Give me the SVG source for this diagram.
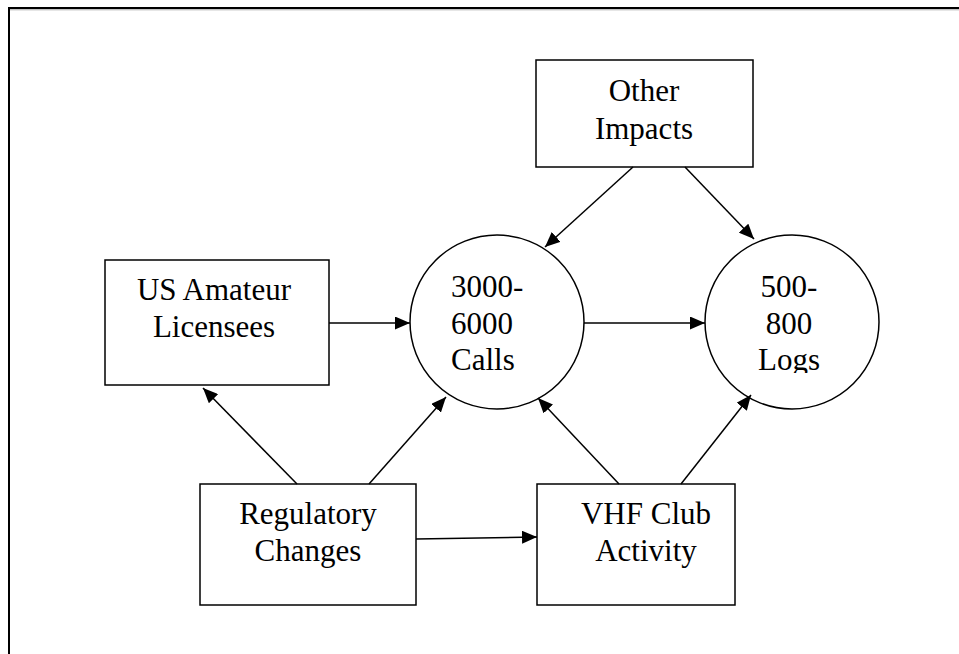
<svg xmlns="http://www.w3.org/2000/svg" width="959" height="654" viewBox="0 0 959 654">
<style>
.box{fill:#fff;stroke:#000;stroke-width:1.5}
.lbl{font-family:"Liberation Serif","Times New Roman",serif;font-size:31px;fill:#000}
.c{text-anchor:middle}
.conn line{stroke:#000;stroke-width:1.5;marker-end:url(#ah)}
</style>
<defs>
<marker id="ah" markerUnits="userSpaceOnUse" markerWidth="16" markerHeight="13" refX="15" refY="6.5" orient="auto">
<path d="M0,0 L15,6.5 L0,13 z" fill="#000"/>
</marker>
<clipPath id="clipLogs"><rect x="700" y="230" width="190" height="143"/></clipPath>
</defs>
<rect width="959" height="654" fill="#fff"/>
<rect x="9" y="8" width="980" height="700" fill="none" stroke="#000" stroke-width="2"/>
<line x1="10" y1="9.8" x2="959" y2="9.8" stroke="#aaa" stroke-width="1"/>

<g id="other-impacts">
<rect class="box" x="536" y="60" width="217" height="107"/>
<text class="lbl c" x="644" y="101">Other</text>
<text class="lbl c" x="644" y="139">Impacts</text>
</g>

<g id="us-amateur">
<rect class="box" x="105" y="260" width="224" height="125"/>
<text class="lbl c" x="214" y="300">US Amateur</text>
<text class="lbl c" x="214" y="337">Licensees</text>
</g>

<g id="calls">
<circle class="box" cx="497" cy="322" r="87"/>
<text class="lbl" x="451" y="297">3000-</text>
<text class="lbl" x="451" y="334">6000</text>
<text class="lbl" x="451" y="370">Calls</text>
</g>

<g id="logs">
<circle class="box" cx="792" cy="322" r="87"/>
<g clip-path="url(#clipLogs)">
<text class="lbl c" x="789" y="297">500-</text>
<text class="lbl c" x="789" y="334">800</text>
<text class="lbl c" x="789" y="370">Logs</text>
</g>
</g>

<g id="regulatory">
<rect class="box" x="200" y="484" width="216" height="121"/>
<text class="lbl c" x="308" y="524">Regulatory</text>
<text class="lbl c" x="308" y="561">Changes</text>
</g>

<g id="vhf-club">
<rect class="box" x="537" y="484" width="198" height="121"/>
<text class="lbl c" x="646" y="524">VHF Club</text>
<text class="lbl c" x="646" y="561">Activity</text>
</g>

<g id="connectors" class="conn">
<line x1="329" y1="323" x2="410" y2="323"/>
<line x1="584" y1="323" x2="705" y2="323"/>
<line x1="633" y1="167" x2="545" y2="247"/>
<line x1="685" y1="167" x2="754" y2="239"/>
<line x1="297" y1="484" x2="203" y2="388"/>
<line x1="369" y1="484" x2="446" y2="397"/>
<line x1="416" y1="539" x2="537" y2="537"/>
<line x1="619" y1="484" x2="538" y2="398"/>
<line x1="681" y1="484" x2="751" y2="395"/>
</g>
</svg>
